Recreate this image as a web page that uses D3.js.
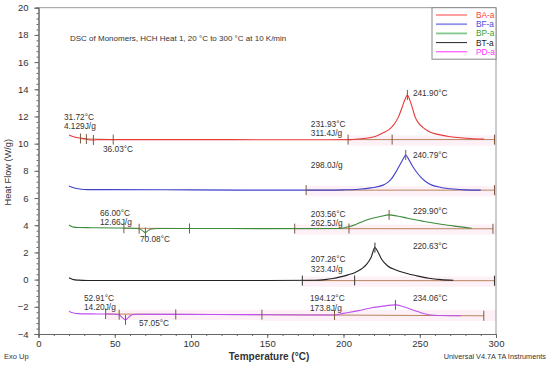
<!DOCTYPE html>
<html>
<head>
<meta charset="utf-8">
<script src="https://cdn.jsdelivr.net/npm/d3@7"></script>
<style>
body { margin: 0; background: #fff; }
svg text { font-family: "Liberation Sans", Arial, sans-serif; fill: #333; }
</style>
</head>
<body>
<svg id="chart" width="550" height="367"></svg>
<script>
// series names + colours
var seriesNames = ["BA-a", "BF-a", "BP-a", "BT-a", "PD-a"];
var lineColors = ["#e83838", "#4040cc", "#3c8c3c", "#222222", "#c050f0"];
var legendColors = ["#ff4040", "#4848e0", "#30a040", "#222222", "#ff30ff"];

// heat flow curves, [temperature °C, W/g]
var baCurve = [[20,10.64],[22,10.55],[25,10.45],[28,10.4],[30,10.37],[31.7,10.33],[33,10.29],[36,10.27],[40,10.3],[50,10.3],[100,10.3],[150,10.29],[190,10.29],[205,10.3],
  [212,10.36],[218,10.45],[222,10.58],[226,10.8],[230,11.05],[233,11.4],[236,11.95],[238.5,12.7],[240.5,13.3],[241.9,13.58],[243.5,13.2],[245.5,12.5],
  [247,11.95],[249,11.55],[252,11.2],[256,10.9],[261,10.7],[268,10.55],[275,10.45],[283,10.38],[292,10.33]];
var bfCurve = [[20,6.89],[22,6.8],[25,6.7],[28,6.65],[32,6.62],[40,6.62],[100,6.6],[150,6.58],[190,6.58],[200,6.6],[210,6.65],[218,6.75],
  [226,6.95],[229,7.15],[231,7.35],[234,7.85],[237,8.45],[239.5,8.95],[240.8,9.17],[242.5,8.9],[245,8.4],[248,7.9],[251,7.5],[254,7.2],
  [258,6.95],[264,6.78],[272,6.66],[280,6.6],[290,6.58]];
var bpCurve = [[20,4.02],[21,3.95],[23,3.86],[26,3.83],[35,3.82],[50,3.8],[60,3.78],[64,3.76],[66,3.74],[68,3.62],[70.1,3.46],[72,3.62],[74,3.72],
  [78,3.76],[100,3.76],[150,3.75],[195,3.76],[200,3.8],[204,3.9],[208,4.05],[213,4.3],[219,4.51],[224,4.64],[229.9,4.76],[235,4.68],[242,4.52],
  [253,4.27],[265,4.05],[277,3.88],[284,3.78]];
var btCurve = [[20,0.13],[21,0.08],[23,0.0],[26,-0.04],[32,-0.07],[100,-0.07],[150,-0.07],[181,-0.05],[188,0.0],[193,0.08],[198,0.2],[203,0.35],
  [208,0.55],[212,0.8],[215,1.1],[218,1.6],[220.6,2.35],[222.5,2.05],[225,1.5],[229,1.0],[234,0.72],[241,0.47],[248,0.28],[256,0.1],[264,0.0],[272,-0.05]];
var pdCurve = [[20,-2.3],[21,-2.38],[23,-2.45],[26,-2.5],[35,-2.52],[44,-2.53],[50,-2.55],[53,-2.6],[55,-2.8],[57.05,-2.96],[59,-2.78],[61,-2.6],
  [64,-2.55],[90,-2.56],[150,-2.58],[185,-2.6],[194,-2.6],[200,-2.48],[210,-2.28],[217,-2.1],[225,-1.97],[234.06,-1.86],[240,-2.02],[248.5,-2.35],
  [256,-2.58],[265,-2.64],[277,-2.66]];
var curves = [baCurve, bfCurve, bpCurve, btCurve, pdCurve];

// integration baselines: [series index, T start, flow start, T end, flow end]
var baselines = [[0,27.5,10.36,49,10.3],[0,203,10.3,299,10.3],[1,175.5,6.58,299,6.58],[2,56,3.78,99,3.76],[2,168,3.75,298,3.74],
  [3,173,-0.07,299,-0.08],[4,44,-2.53,146.5,-2.58],[4,146.5,-2.58,292,-2.66]];
// marker ticks on the curves: [series index, T, flow]
var markers = [[0,27.5,10.38],[0,31.4,10.34],[0,36.0,10.27],[0,49,10.3],[0,203,10.3],[0,231.9,10.3],[0,241.9,13.58],[0,299,10.3],
  [1,175.5,6.58],[1,240.8,9.17],[1,299,6.58],
  [2,56,3.78],[2,66,3.74],[2,70.1,3.46],[2,99,3.76],[2,168,3.75],[2,203.6,3.76],[2,229.9,4.76],[2,298,3.74],
  [3,173,-0.07],[3,207.3,-0.06],[3,220.6,2.35],[3,299,-0.08],
  [4,44,-2.53],[4,52.9,-2.58],[4,57.05,-2.96],[4,90,-2.56],[4,146.5,-2.58],[4,194.1,-2.6],[4,234.06,-1.86],[4,292,-2.66]];
// annotations: [text, T, flow] (text baseline)
var annotations = [["31.72°C",16.7,11.71],["4.129J/g",16.7,11.05],["36.03°C",42.3,9.35],["231.93°C",178.6,11.26],["311.4J/g",178.6,10.6],
  ["241.90°C",245.5,13.47],["298.0J/g",178.6,8.18],["240.79°C",245.5,8.91],["66.00°C",40.3,4.65],["12.66J/g",40.3,3.99],["70.08°C",66.5,2.74],
  ["203.56°C",178.6,4.57],["262.5J/g",178.6,3.91],["229.90°C",245.5,4.79],["220.63°C",245.5,2.22],["207.26°C",178.6,1.26],["323.4J/g",178.6,0.53],
  ["52.91°C",29.8,-1.6],["14.20J/g",29.8,-2.26],["57.05°C",65.9,-3.44],["194.12°C",178,-1.6],["173.8J/g",178,-2.3],["234.06°C",245.5,-1.6]];

var xTicks = [0, 50, 100, 150, 200, 250, 300];
var yTicks = [-4, -2, 0, 2, 4, 6, 8, 10, 12, 14, 16, 18, 20];

var svg = d3.select("#chart");
var x = d3.scaleLinear().domain([0, 300]).range([38.5, 496]);
var y = d3.scaleLinear().domain([-4, 20]).range([334, 7.7]);

// faint pink shading under the analysed ranges
svg.append("g").selectAll("rect").data(baselines.filter(b => b[3] - b[1] > 60))
  .enter().append("rect")
  .attr("x", d => x(d[1]))
  .attr("width", d => x(300) - x(d[1]))
  .attr("y", d => y(d[2] + 0.3))
  .attr("height", d => y(d[2] - 0.45) - y(d[2] + 0.3))
  .attr("fill", "#fdf0f6");

// frame
svg.append("line").attr("x1", x(0)).attr("x2", x(300)).attr("y1", y(20)).attr("y2", y(20)).attr("stroke", "#999");
svg.append("line").attr("x1", x(300)).attr("x2", x(300)).attr("y1", y(20)).attr("y2", y(-4)).attr("stroke", "#999");

// axes, major + minor ticks
var yMinor = d3.range(-4, 20.01, 0.4);
svg.append("g").attr("transform", `translate(${x(0)},0)`)
  .call(d3.axisLeft(y).tickValues(yMinor).tickSize(2).tickFormat(""))
  .call(g => g.selectAll("line,path").attr("stroke", "#666"));
svg.append("g").attr("transform", `translate(${x(0)},0)`)
  .call(d3.axisLeft(y).tickValues(yTicks).tickSize(4).tickPadding(6))
  .call(g => g.selectAll("line,path").attr("stroke", "#666"))
  .call(g => g.selectAll("text").attr("font-size", 9.5));
svg.append("g").attr("transform", `translate(0,${y(-4)})`)
  .call(d3.axisBottom(x).tickValues(d3.range(0, 301, 10)).tickSize(2).tickFormat(""))
  .call(g => g.selectAll("line,path").attr("stroke", "#666"));
svg.append("g").attr("transform", `translate(0,${y(-4)})`)
  .call(d3.axisBottom(x).tickValues(xTicks).tickSize(4).tickPadding(2))
  .call(g => g.selectAll("line,path").attr("stroke", "#666"))
  .call(g => g.selectAll("text").attr("font-size", 9.5));

// baselines
svg.append("g").selectAll("line").data(baselines)
  .enter().append("line")
  .attr("x1", d => x(d[1])).attr("y1", d => y(d[2]))
  .attr("x2", d => x(d[3])).attr("y2", d => y(d[4]))
  .attr("stroke", "#b8845e").attr("stroke-width", 1);

// curves
var line = d3.line().x(d => x(d[0])).y(d => y(d[1])).curve(d3.curveMonotoneX);
svg.append("g").selectAll("path").data(curves)
  .enter().append("path")
  .attr("d", line)
  .attr("fill", "none")
  .attr("stroke", (d, i) => lineColors[i])
  .attr("stroke-width", 1.1);

// markers
svg.append("g").selectAll("line").data(markers)
  .enter().append("line")
  .attr("x1", d => x(d[1])).attr("x2", d => x(d[1]))
  .attr("y1", d => y(d[2]) - 5).attr("y2", d => y(d[2]) + 5)
  .attr("stroke", d => d[0] == 3 ? "#333" : "#7a5a40").attr("stroke-width", 1);

// annotations
svg.append("g").selectAll("text").data(annotations)
  .enter().append("text")
  .attr("x", d => x(d[1])).attr("y", d => y(d[2]))
  .attr("font-size", 8.3)
  .text(d => d[0]);

svg.append("text").attr("x", 70).attr("y", 41).attr("font-size", 8)
  .text("DSC of Monomers, HCH Heat 1, 20 °C to 300 °C at 10 K/min");

// legend
var legend = svg.append("g");
legend.append("rect").attr("x", 432).attr("y", 7.7).attr("width", 64).attr("height", 51.5)
  .attr("fill", "#fff").attr("stroke", "#888");
seriesNames.forEach((s, i) => {
  let ly = 15 + i * 9.2;
  legend.append("line").attr("x1", 436).attr("x2", 467).attr("y1", ly).attr("y2", ly)
    .attr("stroke", legendColors[i]).attr("stroke-width", i == 1 || i == 2 ? 1.8 : 1).attr("stroke-opacity", i == 1 || i == 2 ? 0.6 : 1);
  legend.append("text").attr("x", 476).attr("y", ly + 3).attr("font-size", 8.3)
    .style("fill", legendColors[i]).text(s);
});

// titles
svg.append("text").attr("transform", `translate(11,${y(7.9)}) rotate(-90)`)
  .attr("text-anchor", "middle").attr("font-size", 9.2).text("Heat Flow (W/g)");
svg.append("text").attr("x", 269).attr("y", 360).attr("text-anchor", "middle")
  .attr("font-size", 10).attr("font-weight", "bold").text("Temperature (°C)");
svg.append("text").attr("x", 4).attr("y", 359).attr("font-size", 7.5).text("Exo Up");
svg.append("text").attr("x", 546).attr("y", 359).attr("text-anchor", "end").attr("font-size", 7.3)
  .text("Universal V4.7A TA Instruments");
</script>
</body>
</html>
